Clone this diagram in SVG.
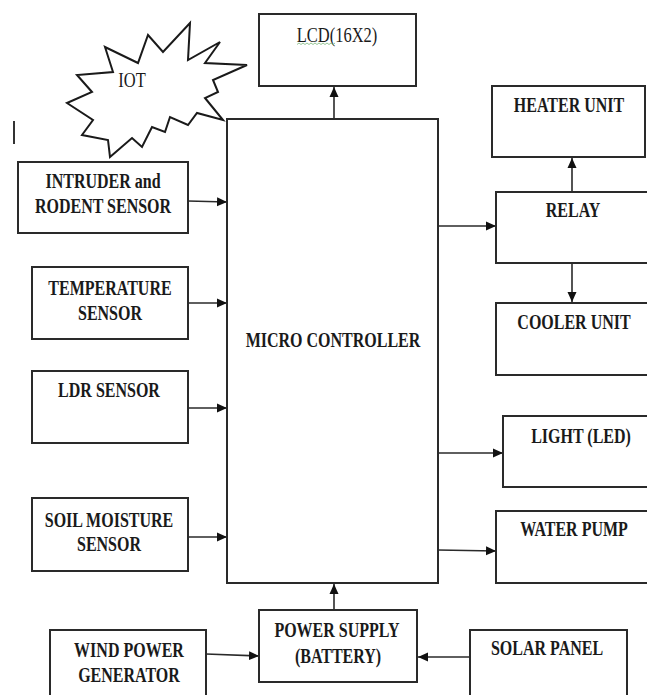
<svg xmlns="http://www.w3.org/2000/svg" width="647" height="695" viewBox="0 0 647 695">
<style>
.box{fill:#fff;stroke:#2a2a2a;stroke-width:2}
.t{font-family:"Liberation Serif","Times New Roman",serif;font-size:16px;font-weight:bold;fill:#1a1a1a;text-anchor:middle}
.r{font-family:"Liberation Serif","Times New Roman",serif;font-size:16.5px;fill:#1a1a1a;text-anchor:middle}
.c{fill:none;stroke:#2a2a2a;stroke-width:1.6;marker-end:url(#ah)}
</style>
<defs>
<marker id="ah" markerUnits="userSpaceOnUse" markerWidth="10" markerHeight="10" viewBox="0 0 10 10" refX="10" refY="5" orient="auto">
<path d="M0,0.5 L10,5 L0,9.5 Z" fill="#111"/>
</marker>
</defs>
<rect width="647" height="695" fill="#fff"/>

<g id="connectors">
<line class="c" x1="334" y1="119" x2="334" y2="87"/>
<line class="c" x1="188" y1="201" x2="227" y2="202"/>
<line class="c" x1="188" y1="303" x2="227" y2="303"/>
<line class="c" x1="188" y1="408" x2="227" y2="408"/>
<line class="c" x1="188" y1="537" x2="227" y2="537"/>
<line class="c" x1="438" y1="226" x2="496" y2="226"/>
<line class="c" x1="572" y1="192" x2="572" y2="158"/>
<line class="c" x1="572" y1="263" x2="572" y2="302"/>
<line class="c" x1="438" y1="453" x2="503" y2="453"/>
<line class="c" x1="438" y1="550" x2="496" y2="551"/>
<line class="c" x1="334" y1="610" x2="334" y2="584"/>
<line class="c" x1="206" y1="654" x2="259" y2="656"/>
<line class="c" x1="470" y1="657" x2="418" y2="657"/>
</g>

<line x1="14" y1="121" x2="14" y2="144" stroke="#333" stroke-width="2"/>

<g id="iot">
<polygon points="190,23 188,60 220,42 205,63 247,65 213,80 218,92 205,98 223,120 197,113 188,125 170,117 165,132 152,127 142,147 132,138 110,157 108,140 82,135 93,120 67,103 92,92 77,75 113,72 105,47 138,63 148,35 163,52" fill="#fff" stroke="#1a1a1a" stroke-width="2" stroke-linejoin="miter"/>
<text class="r" transform="matrix(1 0 0 1.25 132 87)">IOT</text>
</g>

<g id="lcd">
<rect class="box" x="259" y="14" width="157" height="72"/>
<text class="r" transform="matrix(1 0 0 1.25 337 42)">LCD(16X2)</text>
<path d="M297,44.5 l2,-1.5 l2,1.5 l2,-1.5 l2,1.5 l2,-1.5 l2,1.5 l2,-1.5 l2,1.5 l2,-1.5 l2,1.5 l2,-1.5 l2,1.5 l2,-1.5 l2,1.5 l2,-1.5 l2,1.5 l2,-1.5 l2,1.5 l2,-1.5" fill="none" stroke="#7bb87b" stroke-width="0.8"/>
</g>

<g id="micro">
<rect class="box" x="227" y="119" width="211" height="464"/>
<text class="t" transform="matrix(1 0 0 1.25 333 347)">MICRO CONTROLLER</text>
</g>

<g id="intruder">
<rect class="box" x="18" y="162" width="170" height="71"/>
<text class="t" transform="matrix(1 0 0 1.25 103 188)">INTRUDER and</text>
<text class="t" transform="matrix(1 0 0 1.25 103 213)">RODENT SENSOR</text>
</g>

<g id="temperature">
<rect class="box" x="32" y="267" width="156" height="72"/>
<text class="t" transform="matrix(1 0 0 1.25 110 295)">TEMPERATURE</text>
<text class="t" transform="matrix(1 0 0 1.25 110 320)">SENSOR</text>
</g>

<g id="ldr">
<rect class="box" x="32" y="371" width="156" height="72"/>
<text class="t" transform="matrix(1 0 0 1.25 109 397)">LDR SENSOR</text>
</g>

<g id="soil">
<rect class="box" x="32" y="498" width="156" height="73"/>
<text class="t" transform="matrix(1 0 0 1.25 109 527)">SOIL MOISTURE</text>
<text class="t" transform="matrix(1 0 0 1.25 109 551)">SENSOR</text>
</g>

<g id="heater">
<rect class="box" x="492" y="86" width="153" height="71"/>
<text class="t" transform="matrix(1 0 0 1.25 569 112)">HEATER UNIT</text>
</g>

<g id="relay">
<rect class="box" x="496" y="192" width="160" height="71"/>
<text class="t" transform="matrix(1 0 0 1.25 573 217)">RELAY</text>
</g>

<g id="cooler">
<rect class="box" x="496" y="303" width="160" height="72"/>
<text class="t" transform="matrix(1 0 0 1.25 574 329)">COOLER UNIT</text>
</g>

<g id="led">
<rect class="box" x="503" y="416" width="160" height="71"/>
<text class="t" transform="matrix(1 0 0 1.25 581 443)">LIGHT (LED)</text>
</g>

<g id="pump">
<rect class="box" x="496" y="511" width="160" height="72"/>
<text class="t" transform="matrix(1 0 0 1.25 574 536)">WATER PUMP</text>
</g>

<g id="power">
<rect class="box" x="259" y="610" width="158" height="72"/>
<text class="t" transform="matrix(1 0 0 1.25 337 637)">POWER SUPPLY</text>
<text class="t" transform="matrix(1 0 0 1.25 338 663)">(BATTERY)</text>
</g>

<g id="wind">
<rect class="box" x="50" y="630" width="156" height="80"/>
<text class="t" transform="matrix(1 0 0 1.25 129 657)">WIND POWER</text>
<text class="t" transform="matrix(1 0 0 1.25 129 682)">GENERATOR</text>
</g>

<g id="solar">
<rect class="box" x="470" y="630" width="157" height="80"/>
<text class="t" transform="matrix(1 0 0 1.25 547 655)">SOLAR PANEL</text>
</g>
</svg>
